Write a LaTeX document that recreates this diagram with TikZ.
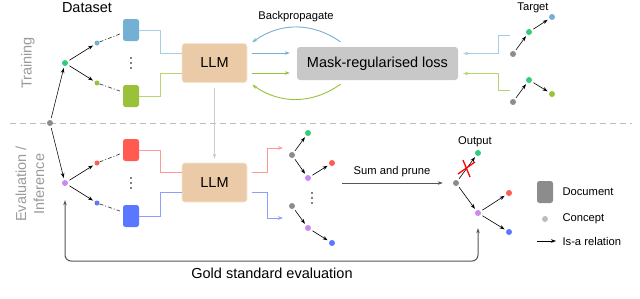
\documentclass[tikz,border=0pt]{standalone}
\usepackage{fontspec}
\setmainfont{Liberation Sans}
\usetikzlibrary{arrows.meta}
\definecolor{cgreen}{HTML}{33CC7A}
\definecolor{cblue}{HTML}{74B0D4}
\definecolor{cyg}{HTML}{99C23A}
\definecolor{cred}{HTML}{FF5B50}
\definecolor{cdblue}{HTML}{5A78FF}
\definecolor{cviolet}{HTML}{CC88F2}
\definecolor{cgray}{HTML}{8C8C8C}
\definecolor{clgray}{HTML}{BDBDBD}
\definecolor{llmfill}{HTML}{EBCAA8}
\definecolor{lossfill}{HTML}{C8C8C8}
\definecolor{lblue}{HTML}{A6CDE4}
\definecolor{lgreen}{HTML}{B6D670}
\definecolor{lred}{HTML}{FF9A93}
\definecolor{ldblue}{HTML}{8C9EFF}
\definecolor{labgray}{HTML}{9A9A9A}
\definecolor{dline}{HTML}{555555}
\tikzset{
  dot/.style={circle,fill=#1,inner sep=0pt,minimum size=6pt},
  sdot/.style={circle,fill=#1,inner sep=0pt,minimum size=5pt},
  isa/.style={-{Stealth[length=5pt,width=3.6pt]},line width=0.6pt,shorten <=2pt,shorten >=2pt},
  docbox/.style={fill=#1,rounded corners=2.5pt,minimum width=16pt,minimum height=22pt,inner sep=0pt},
  llmbox/.style={fill=llmfill,draw=llmfill!50!white,line width=0.6pt,rounded corners=3pt,minimum width=65pt,minimum height=39pt,inner sep=0pt,font=\bigfont},
  conn/.style={line width=0.9pt},
  carrow/.style={line width=0.9pt,-{Stealth[length=5pt,width=3.6pt]}},
  dashdot/.style={line width=0.7pt,black!75,dash pattern=on 4pt off 2pt on 1pt off 2pt},
  biglabel/.style={font=\bigfont},
  sidelabel/.style={font=\bigfont,text=labgray,rotate=90,align=center},
}
\newcommand{\bigfont}{\fontsize{14.5}{18}\selectfont}
\newcommand{\smallfont}{\fontsize{11.2}{13}\selectfont}
\begin{document}
\begin{tikzpicture}[x=1pt,y=-1pt,font=\smallfont]
\useasboundingbox (0,0) rectangle (640,298);

% separator
\draw[clgray,line width=0.8pt,dash pattern=on 6pt off 4pt] (10,123) -- (632,123);

% side labels
\node[sidelabel] (ltrain) at (28,63) {Training};
\node[sidelabel] (leval) at (30,184) {Evaluation /\\Inference};
\node[biglabel] (ldata) at (87,8) {Dataset};

% root and dataset trees
\node[dot=cgray] (r) at (50,123) {};
\node[dot=cgreen] (g) at (65,63) {};
\node[dot=cviolet] (v) at (65,183) {};
\node[sdot=cblue] (s1) at (97,43) {};
\node[sdot=cyg] (s2) at (97,83) {};
\node[sdot=cred] (s3) at (97,163) {};
\node[sdot=cdblue] (s4) at (97,203) {};
\draw[isa] (r) -- (g);
\draw[isa] (r) -- (v);
\draw[isa] (g) -- (s1);
\draw[isa] (g) -- (s2);
\draw[isa] (v) -- (s3);
\draw[isa] (v) -- (s4);

% document boxes
\node[docbox=cblue] (b1) at (131,30) {};
\node[docbox=cyg] (b2) at (131,96) {};
\node[docbox=cred] (b3) at (131,150) {};
\node[docbox=cdblue] (b4) at (131,216) {};
\draw[dashdot] (s1) -- ([shift={(-3,4)}]b1.west);
\draw[dashdot] (s2) -- ([shift={(-3,-5)}]b2.west);
\draw[dashdot] (s3) -- ([shift={(-3,4)}]b3.west);
\draw[dashdot] (s4) -- ([shift={(-3,-5)}]b4.west);
\foreach \yy in {58,63,68} \fill (131,\yy) circle (0.9pt);
\foreach \yy in {178,183,188} \fill (131,\yy) circle (0.9pt);

% LLMs
\node[llmbox] (llm1) at (214.5,63) {LLM};
\node[llmbox] (llm2) at (214.5,182.5) {LLM};
\draw[conn,lblue] (b1.east) -- ++(21,0) |- ([yshift=10pt]llm1.west);
\draw[conn,lgreen] (b2.east) -- ++(21,0) |- ([yshift=-10pt]llm1.west);
\draw[conn,lred] (b3.east) -- ++(21,0) |- ([yshift=10pt]llm2.west);
\draw[conn,ldblue] (b4.east) -- ++(21,0) |- ([yshift=-10pt]llm2.west);
\draw[line width=1pt,black!20,-{Stealth[length=5pt,width=3.6pt]},shorten <=5pt,shorten >=4pt] (llm1.south) -- (llm2.north);

% loss
\node[fill=lossfill,rounded corners=3pt,minimum width=161pt,minimum height=33pt,inner sep=0pt,font=\bigfont] (loss) at (377.5,63.5) {Mask-regularised loss};
\draw[carrow,cblue,shorten <=5pt,shorten >=7pt] ([yshift=10pt]llm1.east) -- ([yshift=10.5pt]loss.west);
\draw[carrow,cyg,shorten <=5pt,shorten >=7pt] ([yshift=-10pt]llm1.east) -- ([yshift=-9.5pt]loss.west);
\draw[carrow,cblue] ([shift={(-37,-5)}]loss.north) to[bend right=35] ([shift={(5,-1)}]llm1.north east);
\draw[carrow,cyg] ([shift={(-37,4)}]loss.south) to[bend left=35] ([shift={(5,2)}]llm1.south east);
\node (lbp) at (296,17) {Backpropagate};

% targets
\node (ltarget) at (533,8) {Target};
\node[dot=cgray] (t1a) at (513,54) {};
\node[dot=cgreen] (t1b) at (529,32) {};
\node[dot=cblue] (t1c) at (552,17) {};
\node[dot=cgray] (t2a) at (513,102) {};
\node[dot=cgreen] (t2b) at (529,80) {};
\node[dot=cyg] (t2c) at (552,94) {};
\draw[isa] (t1a) -- (t1b);
\draw[isa] (t1b) -- (t1c);
\draw[isa] (t2a) -- (t2b);
\draw[isa] (t2b) -- (t2c);
\coordinate (ts1) at (510,35);
\coordinate (ts2) at (510,90);
\draw[carrow,lblue,shorten >=5pt] (ts1) -- ++(-12,0) |- ([yshift=10pt]loss.east);
\draw[carrow,lgreen,shorten >=5pt] (ts2) -- ++(-12,0) |- ([yshift=-10pt]loss.east);

% eval outputs
\coordinate (redend) at (283,148);
\coordinate (blueend) at (283,218);
\draw[carrow,lred] ([shift={(5,-10)}]llm2.east) -- ++(15,0) |- (redend);
\draw[carrow,ldblue] ([shift={(5,10)}]llm2.east) -- ++(15,0) |- (blueend);
\node[dot=cgray] (a1) at (292,155) {};
\node[dot=cgreen] (a2) at (308,133) {};
\node[dot=cviolet] (a3) at (308,178) {};
\node[dot=cred] (a4) at (332,163) {};
\node[dot=cgray] (c1) at (292,206) {};
\node[dot=cviolet] (c2) at (308,228) {};
\node[dot=cdblue] (c3) at (332,243) {};
\draw[isa] (a1) -- (a2);
\draw[isa] (a1) -- (a3);
\draw[isa] (a3) -- (a4);
\draw[isa] (c1) -- (c2);
\draw[isa] (c2) -- (c3);
\foreach \yy in {193,198,203} \fill (312,\yy) circle (0.9pt);

% sum and prune
\node[dot=cgray] (og) at (456,183) {};
\coordinate (sps) at (342,183);
\draw[dline,line width=1pt,-{Stealth[length=5pt,width=3.6pt]},shorten >=10pt] (sps) -- (og);
\node (lsp) at (392,172) {Sum and prune};

% output tree
\node (lout) at (475,142) {Output};
\node[dot=cgreen] (ogr) at (478,153) {};
\node[dot=cviolet] (ov) at (478,213) {};
\node[dot=cred] (ored) at (509,193) {};
\node[dot=cdblue] (obl) at (509,232) {};
\draw[isa] (og) -- (ogr);
\draw[isa] (og) -- (ov);
\draw[isa] (ov) -- (ored);
\draw[isa] (ov) -- (obl);
\draw[red,line width=1.3pt] (463,160) -- (470,177);
\draw[red,line width=1.3pt] (458,174) -- (475,162);

% gold standard
\draw[dline,line width=1pt,rounded corners=6pt,{Stealth[length=5pt,width=3.6pt]}-{Stealth[length=5pt,width=3.6pt]},shorten <=12pt,shorten >=14pt]
  (ov.south) -- (ov.south |- 0,261) -- (v.south |- 0,261) -- (v.south);
\node[biglabel] (lgold) at (272,273) {Gold standard evaluation};

% legend
\node[docbox=cgray] (kdoc) at (545,192) {};
\node[anchor=west] (kdoct) at (559,192) {Document};
\node[dot=clgray] (kcon) at (545,219) {};
\node[anchor=west] (kcont) at (559,219) {Concept};
\coordinate (karr) at (537,241);
\draw[line width=0.6pt,-{Stealth[length=5pt,width=3.6pt]}] (karr) -- ++(19,0) coordinate (karre);
\node[anchor=west] (karrt) at (559,241) {Is-a relation};
\end{tikzpicture}
\end{document}
